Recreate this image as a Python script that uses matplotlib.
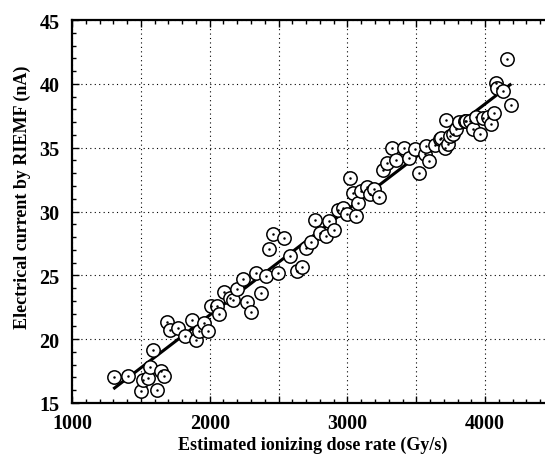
"""Electrical current by RIEMF vs estimated ionizing dose rate."""

import matplotlib

matplotlib.use("Agg")
import matplotlib.pyplot as plt
from matplotlib.ticker import FuncFormatter, MultipleLocator

dose_rate = [
    1307, 1404, 1498, 1518, 1549, 1566, 1590, 1617, 1643, 1670,
    1687, 1711, 1767, 1820, 1869, 1898, 1922, 1958, 1985, 2011,
    2050, 2069, 2103, 2147, 2171, 2195, 2243, 2268, 2297, 2333,
    2372, 2410, 2432, 2461, 2493, 2539, 2582, 2631, 2667, 2698,
    2739, 2763, 2800, 2848, 2867, 2901, 2928, 2969, 2998, 3020,
    3038, 3061, 3078, 3102, 3139, 3163, 3190, 3226, 3259, 3290,
    3322, 3353, 3409, 3448, 3489, 3519, 3562, 3573, 3593, 3635,
    3670, 3683, 3707, 3714, 3731, 3748, 3767, 3787, 3811, 3852,
    3864, 3888, 3912, 3937, 3961, 3985, 4021, 4041, 4062, 4076,
    4083, 4131, 4160, 4191,
]
current = [
    17.06, 17.14, 15.94, 16.80, 16.93, 17.79, 19.17, 16.04, 17.53, 17.09,
    21.37, 20.74, 20.87, 20.22, 21.50, 19.91, 20.61, 21.26, 20.66, 22.62,
    22.57, 21.97, 23.72, 23.20, 23.07, 23.93, 24.71, 22.93, 22.10, 25.16,
    23.60, 24.97, 27.06, 28.23, 25.18, 27.90, 26.53, 25.36, 25.67, 27.16,
    27.63, 29.33, 28.29, 28.10, 29.28, 28.57, 30.14, 30.25, 29.80, 32.60,
    31.47, 29.62, 30.70, 31.63, 31.89, 31.37, 31.73, 31.10, 33.27, 33.80,
    34.94, 34.00, 35.00, 34.16, 34.90, 33.05, 34.50, 35.10, 33.93, 35.20,
    35.67, 35.72, 34.94, 37.17, 35.28, 35.93, 36.06, 36.45, 37.03, 37.11,
    37.11, 37.11, 36.45, 37.40, 36.10, 37.30, 37.37, 36.85, 37.71, 40.04,
    39.64, 39.46, 41.94, 38.38,
]

# Linear fit endpoints.
fit_x = [1300, 4190]
fit_y = [16.1, 40.0]

plt.rcParams["font.family"] = ["Liberation Serif", "DejaVu Serif"]
plt.rcParams["font.weight"] = "bold"

fig = plt.figure(figsize=(5.45, 4.64), dpi=100)
# Axes run past the right edge of the figure, as in the original scan.
ax = fig.add_axes([72 / 545, 60 / 464, 482 / 545, 383 / 464])

ax.plot(fit_x, fit_y, color="black", linewidth=2.2, solid_capstyle="butt", zorder=2)
ax.plot(
    dose_rate, current,
    linestyle="none", marker="o", markersize=9.6,
    markerfacecolor="white", markeredgecolor="black", markeredgewidth=1.1,
    zorder=3,
)
ax.plot(dose_rate, current, linestyle="none", marker="o", markersize=0.8,
        color="black", zorder=4)

ax.set_xlim(1000, 4500)
ax.set_ylim(15, 45)
ax.xaxis.set_major_locator(MultipleLocator(500))
ax.xaxis.set_minor_locator(MultipleLocator(100))
ax.yaxis.set_major_locator(MultipleLocator(5))
ax.yaxis.set_minor_locator(MultipleLocator(1))
ax.xaxis.set_major_formatter(
    FuncFormatter(lambda v, _: f"{v:.0f}" if v % 1000 == 0 else "")
)

ax.grid(True, which="major", color="black", linestyle=(0, (1, 3)), linewidth=0.8)
ax.tick_params(which="both", direction="in", top=True, right=False, width=1.0)
ax.tick_params(which="major", length=5, labelsize=14.5)
ax.tick_params(axis="y", which="major", pad=9)
ax.tick_params(axis="x", which="major", pad=7)
ax.tick_params(which="minor", length=3)
for side in ("left", "bottom", "top"):
    ax.spines[side].set_linewidth(1.6)
ax.spines["right"].set_visible(False)

ax.set_xlabel("Estimated ionizing dose rate (Gy/s)", fontsize=13,
              fontweight="bold", labelpad=2)
ax.set_ylabel("Electrical current by RIEMF (nA)", fontsize=13,
              fontweight="bold")
ax.yaxis.set_label_coords(-0.085, 0.54)

fig.savefig("out.png", dpi=100)
